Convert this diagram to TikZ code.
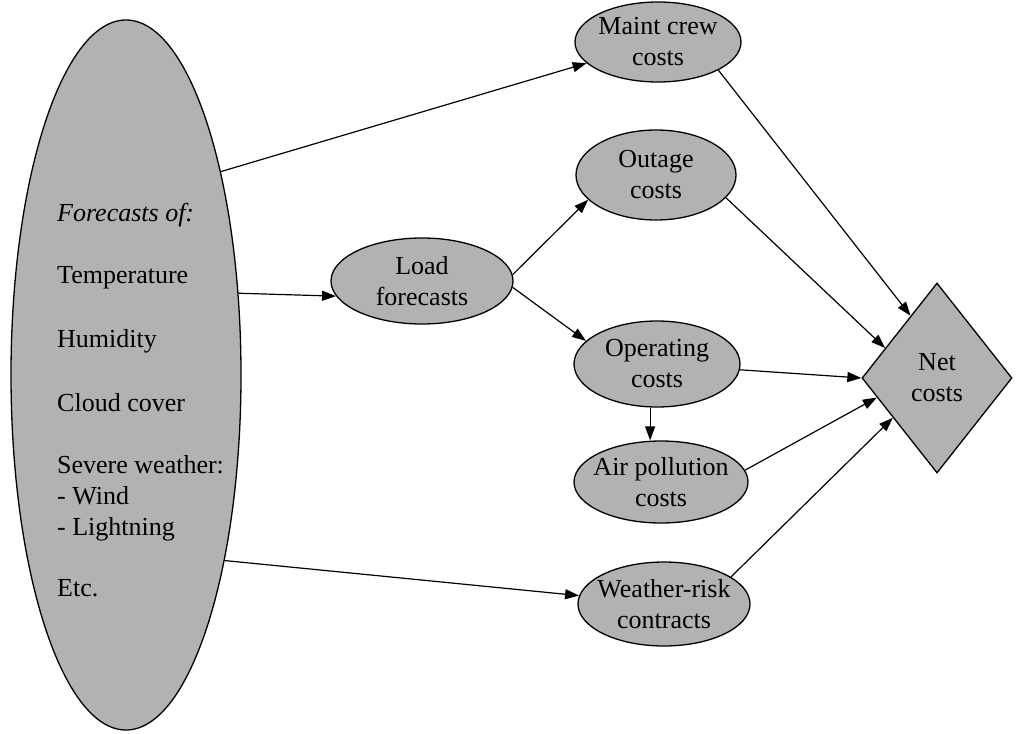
\documentclass[tikz,border=0pt]{standalone}
\usepackage{fontspec}
\setmainfont{Liberation Serif}
\usetikzlibrary{shapes.geometric,arrows.meta}
\definecolor{shade}{RGB}{178,178,178}
\tikzset{
  every picture/.style={x=1pt,y=-1pt},
  blob/.style={ellipse,draw=black,line width=1.3pt,fill=shade,inner sep=0pt},
  netbox/.style={diamond,draw=black,line width=1.3pt,fill=shade,inner sep=0pt},
  words/.style={align=center,inner sep=0pt,font=\fontsize{26}{31}\selectfont},
  item/.style={anchor=base west,inner sep=0pt,font=\fontsize{26}{31}\selectfont},
  link/.style={line width=1.2pt,-{Triangle[length=14pt,width=10pt]}}
}
\begin{document}
\begin{tikzpicture}
\useasboundingbox (0,0) rectangle (1035,733);
% source of all forecasts
\node[blob,minimum width=230pt,minimum height=710pt] (src) at (126,375) {};
\node[item] (t0) at (57,221) {\itshape Forecasts of:};
\node[item] (t1) at (57,283) {Temperature};
\node[item] (t2) at (57,347) {Humidity};
\node[item] (t3) at (57,411) {Cloud cover};
\node[item] (t4) at (57,473) {Severe weather:};
\node[item] (t5) at (57,504) {- Wind};
\node[item] (t6) at (57,535) {- Lightning};
\node[item] (t7) at (57,596) {Etc.};
% intermediate quantities
\node[blob,minimum width=166pt,minimum height=80pt] (maint) at (658,42) {};
\node[words] (maint-t) at (maint) {Maint crew\\costs};
\node[blob,minimum width=160pt,minimum height=90pt] (outage) at (656,175) {};
\node[words] (outage-t) at (outage) {Outage\\costs};
\node[blob,minimum width=182pt,minimum height=86pt] (load) at (422,281) {};
\node[words] (load-t) at (load) {Load\\forecasts};
\node[blob,minimum width=166pt,minimum height=86pt] (oper) at (657,364) {};
\node[words] (oper-t) at (oper) {Operating\\costs};
\node[blob,minimum width=174pt,minimum height=82pt] (air) at (661,482) {};
\node[words] (air-t) at (air) {Air pollution\\costs};
\node[blob,minimum width=172pt,minimum height=84pt] (wrisk) at (664,604) {};
\node[words] (wrisk-t) at (wrisk) {Weather-risk\\contracts};
% outcome
\node[netbox,minimum width=150pt,minimum height=190pt] (net) at (937,378) {};
\node[words] (net-t) at (net) {Net\\costs};
% connectors
\draw[link] (src.65) -- (maint);
\draw[link] (src.36) -- (load.190);
\draw[link] (src.-62) -- (wrisk);
\draw[link] (load.4) -- (outage.200);
\draw[link] (load.-4) -- (oper.162);
\draw[link] (oper.-99) -- (oper.-99 |- air.north);
\draw[link] (maint.-25) -- (net.113);
\draw[link] (outage.-18) -- (net.150);
\draw[link] (oper.-4) -- (net.west);
\draw[link] (air.8) -- (net.198);
\draw[link] (wrisk.22) -- (net.222);
\end{tikzpicture}
\end{document}
